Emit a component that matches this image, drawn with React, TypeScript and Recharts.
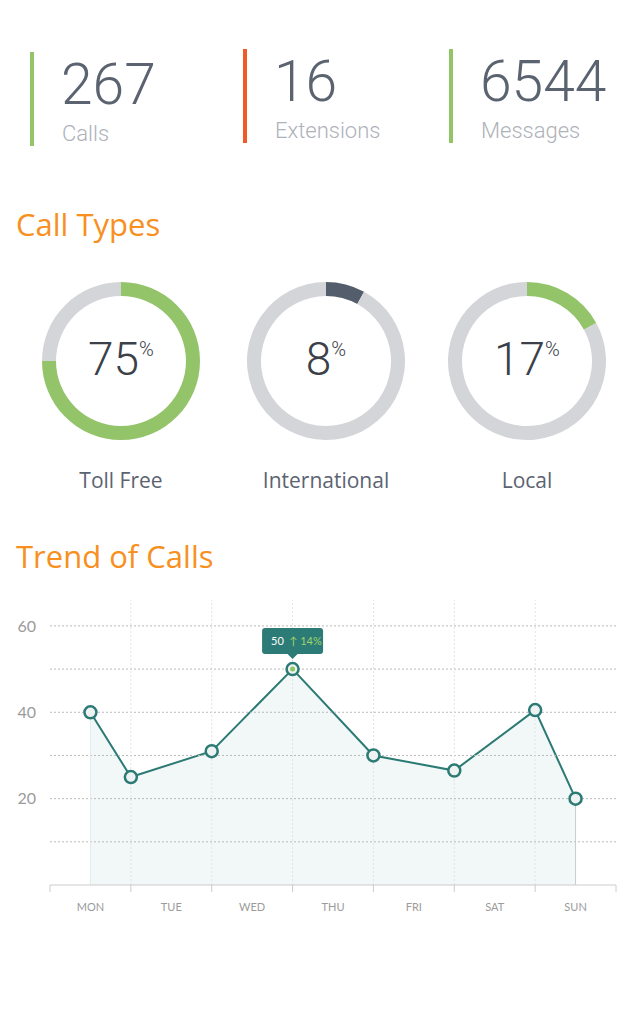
import {
  PieChart,
  Pie,
  Cell,
  AreaChart,
  Area,
  XAxis,
  YAxis,
  ReferenceLine,
} from "recharts";

// top counters
const statValues = ["267", "16", "6544"];
const statLabels = ["Calls", "Extensions", "Messages"];
const statColors = ["#93c467", "#f05a28", "#93c467"];

// call types donuts
const typeNames = ["Toll Free", "International", "Local"];
const typeShares = [75, 8, 17];
const typeColors = ["#93c46a", "#545d6b", "#93c46a"];

// trend of calls
const days = ["MON", "TUE", "WED", "THU", "FRI", "SAT", "SUN"];
const slots = [0.5, 1, 2, 3, 4, 5, 6, 6.5];
const calls = [40, 25, 31, 50, 30, 26.5, 40.5, 20];
const yTicks = [10, 20, 30, 40, 50, 60];
const peakChange = 14;

const teal = "#2b7a74";
const orange = "#f7901e";

const trendData = slots.map((s, i) => ({ slot: s, calls: calls[i] }));
const peakIndex = calls.indexOf(Math.max(...calls));
const xTicks: number[] = [];
for (let i = 0; i <= days.length; i++) {
  xTicks.push(i);
  if (i < days.length) xTicks.push(i + 0.5);
}

const XTick = (props: any) => {
  const { x, y, payload } = props;
  const v = payload.value;
  if (Number.isInteger(v)) {
    return <line x1={x} x2={x} y1={y} y2={y + 7} stroke="#cccccc" strokeWidth={1} />;
  }
  return (
    <text x={x} y={y + 26} textAnchor="middle" fontSize={11} fill="#9b9b9b" fontFamily="Lato">
      {days[Math.floor(v)]}
    </text>
  );
};

const Dot = (props: any) => {
  const { cx, cy, index } = props;
  return (
    <g key={"d" + index}>
      <circle cx={cx} cy={cy} r={6} fill="#eef2f2" stroke={teal} strokeWidth={2.5} />
      {index === peakIndex && <circle cx={cx} cy={cy} r={2.5} fill="#8cc860" />}
    </g>
  );
};

const PeakLabel = (props: any) => {
  const { x, y, value, index } = props;
  if (index !== peakIndex) return null;
  const w = 61;
  const h = 26;
  const bx = x - w / 2;
  const by = y - 15 - h;
  return (
    <g>
      <rect x={bx} y={by} width={w} height={h} rx={3} fill="#2d7b76" />
      <path d={`M${x - 5},${by + h} L${x},${by + h + 5} L${x + 5},${by + h} Z`} fill="#2d7b76" />
      <text x={bx + 9} y={by + 17} fontSize={11} fill="#ffffff" fontFamily="Lato">
        {value}
      </text>
      <text x={bx + 27} y={by + 17} fontSize={11} fill="#9fd46b" fontFamily="Lato">
        {"\u2191 " + peakChange + "%"}
      </text>
    </g>
  );
};

const Stat = ({ i }: { i: number }) => {
  const left = [30, 243, 449][i];
  const top = [52, 49, 49][i];
  return (
    <div style={{ position: "absolute", left, top, height: 94 }}>
      <div style={{ position: "absolute", left: 0, top: 0, width: 4, height: 94, background: statColors[i] }} />
      <div
        style={{
          position: "absolute",
          left: 31,
          top: 0,
          fontSize: 57,
          fontWeight: 300,
          color: "#5b6370",
          fontFamily: "Roboto",
          lineHeight: "66px",
          whiteSpace: "nowrap",
        }}
      >
        {statValues[i]}
      </div>
      <div
        style={{
          position: "absolute",
          left: 32,
          top: 69,
          fontSize: 22,
          fontWeight: 300,
          color: "#aeb2b9",
          fontFamily: "Roboto",
          lineHeight: "26px",
          whiteSpace: "nowrap",
        }}
      >
        {statLabels[i]}
      </div>
    </div>
  );
};

const Donut = ({ i }: { i: number }) => {
  const cx = [121, 326, 527][i];
  const cy = 361;
  const share = typeShares[i];
  const d = [
    { name: "share", value: share },
    { name: "rest", value: 100 - share },
  ];
  return (
    <>
      <div style={{ position: "absolute", left: cx - 85, top: cy - 85 }}>
        <PieChart width={170} height={170} margin={{ top: 0, right: 0, bottom: 0, left: 0 }}>
          <Pie
            data={d}
            dataKey="value"
            cx={85}
            cy={85}
            innerRadius={65}
            outerRadius={79}
            startAngle={90}
            endAngle={-270}
            stroke="none"
            isAnimationActive={false}
          >
            <Cell fill={typeColors[i]} />
            <Cell fill="#d4d5d9" />
          </Pie>
        </PieChart>
      </div>
      <div
        style={{
          position: "absolute",
          left: cx - 80,
          width: 160,
          top: cy - 30,
          textAlign: "center",
          color: "#3b4049",
          fontFamily: "Roboto",
          fontWeight: 300,
          fontSize: 46,
          lineHeight: "56px",
        }}
      >
        {share}
        <span style={{ fontSize: 20, verticalAlign: "top", lineHeight: "36px" }}>%</span>
      </div>
      <div
        style={{
          position: "absolute",
          left: cx - 90,
          width: 180,
          top: 465,
          textAlign: "center",
          color: "#5b6370",
          fontFamily: "Open Sans",
          fontSize: 21,
          lineHeight: "30px",
        }}
      >
        {typeNames[i]}
      </div>
    </>
  );
};

const App = () => {
  return (
    <div
      style={{
        position: "absolute",
        left: 0,
        top: 0,
        width: 640,
        height: 1024,
        background: "#ffffff",
        overflow: "hidden",
        fontFamily: "Open Sans",
      }}
    >
      {statValues.map((_, i) => (
        <Stat key={i} i={i} />
      ))}

      <div style={{ position: "absolute", left: 16, top: 203, fontSize: 31, color: orange, lineHeight: "42px" }}>
        Call Types
      </div>

      {typeShares.map((_, i) => (
        <Donut key={i} i={i} />
      ))}

      <div style={{ position: "absolute", left: 16, top: 535, fontSize: 31, color: orange, lineHeight: "42px" }}>
        Trend of Calls
      </div>

      <div style={{ position: "absolute", left: 0, top: 590 }}>
        <AreaChart width={640} height={340} data={trendData} margin={{ top: 10, right: 24, left: 0, bottom: 15 }}>
          {yTicks.map((t) => (
            <ReferenceLine key={"h" + t} y={t} stroke="#b9b9b9" strokeDasharray="2 2" />
          ))}
          {xTicks
            .filter((t) => Number.isInteger(t) && t > 0 && t < days.length)
            .map((t) => (
              <ReferenceLine key={t} x={t} stroke="#e2e2e2" strokeDasharray="2 2" />
            ))}
          <XAxis
            type="number"
            dataKey="slot"
            domain={[0, days.length]}
            ticks={xTicks}
            interval={0}
            tick={<XTick />}
            tickLine={false}
            tickSize={0}
            tickMargin={0}
            height={30}
            axisLine={{ stroke: "#cccccc" }}
          />
          <YAxis
            domain={[0, 66]}
            ticks={yTicks}
            tickFormatter={(v: number) => (v % 20 === 0 ? String(v) : "")}
            axisLine={false}
            tickLine={false}
            tickSize={0}
            tickMargin={14}
            width={50}
            tick={{ fill: "#9b9b9b", fontSize: 16, fontFamily: "Lato" }}
          />
          <ReferenceLine
            segment={[
              { x: slots[0], y: 0 },
              { x: slots[0], y: calls[0] },
            ]}
            stroke="#e4e9e9"
          />
          <ReferenceLine
            segment={[
              { x: slots[slots.length - 1], y: 0 },
              { x: slots[slots.length - 1], y: calls[calls.length - 1] },
            ]}
            stroke="#c5cccc"
          />
          <Area
            type="linear"
            dataKey="calls"
            stroke={teal}
            strokeWidth={2}
            fill="#f2f7f8"
            fillOpacity={1}
            dot={<Dot />}
            activeDot={false}
            label={<PeakLabel />}
            isAnimationActive={false}
          />
        </AreaChart>
      </div>
    </div>
  );
};

export default App;
